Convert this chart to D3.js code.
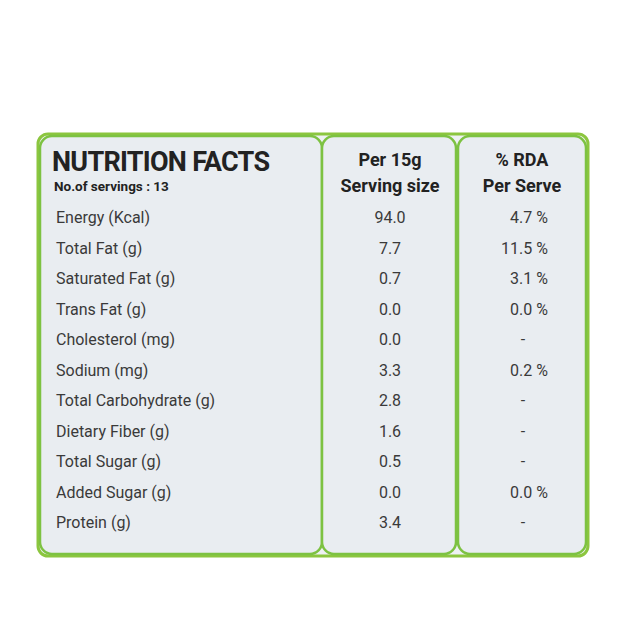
<!DOCTYPE html>
<html><head><meta charset="utf-8">
<script src="https://cdn.jsdelivr.net/npm/d3@7"></script>
<style>body{margin:0;background:#fff}</style></head>
<body><svg id="c" width="640" height="640"></svg>
<script>
const nutrients=["Energy (Kcal)","Total Fat (g)","Saturated Fat (g)","Trans Fat (g)","Cholesterol (mg)","Sodium (mg)","Total Carbohydrate (g)","Dietary Fiber (g)","Total Sugar (g)","Added Sugar (g)","Protein (g)"];
const perServing=["94.0","7.7","0.7","0.0","0.0","3.3","2.8","1.6","0.5","0.0","3.4"];
const rda=["4.7 %","11.5 %","3.1 %","0.0 %","-","0.2 %","-","-","-","0.0 %","-"];
const svg=d3.select("#c");
const font="Roboto, 'Noto Sans', sans-serif";
// outer frame
svg.append("rect").attr("x",38).attr("y",134).attr("width",550).attr("height",422).attr("rx",10).attr("fill","#eef1f4").attr("stroke","#8cc63f").attr("stroke-width",3);
const panels=[[40,136,282,418],[322,136,134,418],[458,136,128,418]];
svg.selectAll("rect.p").data(panels).join("rect").attr("class","p")
 .attr("x",d=>d[0]).attr("y",d=>d[1]).attr("width",d=>d[2]).attr("height",d=>d[3]).attr("rx",12)
 .attr("fill","#e9edf1").attr("stroke","#7dc242").attr("stroke-width",2.5);
const y=d3.scalePoint().domain(nutrients).range([217,522]);
const g=svg.append("g").attr("font-family",font).attr("fill","#3a3a3a");
g.append("text").attr("x",52).attr("y",171).attr("font-size",27).attr("font-weight","bold").attr("fill","#222").attr("textLength",218).text("NUTRITION FACTS");
g.append("text").attr("x",54).attr("y",191).attr("font-size",13.5).attr("font-weight","bold").attr("fill","#222").text("No.of servings : 13");
[["Per 15g",166],["Serving size",192]].forEach(([t,yy])=>g.append("text").attr("x",390).attr("y",yy).attr("text-anchor","middle").attr("font-size",18).attr("font-weight","bold").attr("fill","#222").text(t));
[["% RDA",166],["Per Serve",192]].forEach(([t,yy])=>g.append("text").attr("x",522).attr("y",yy).attr("text-anchor","middle").attr("font-size",18).attr("font-weight","bold").attr("fill","#222").text(t));
g.selectAll("text.n").data(nutrients).join("text").attr("class","n").attr("x",56).attr("y",d=>y(d)+6).attr("font-size",16).text(d=>d);
g.selectAll("text.v").data(perServing).join("text").attr("class","v").attr("x",390).attr("y",(d,i)=>y(nutrients[i])+6).attr("text-anchor","middle").attr("font-size",16).text(d=>d);
g.selectAll("text.r").data(rda).join("text").attr("class","r").attr("x",(d)=>d==="-"?523:548).attr("y",(d,i)=>y(nutrients[i])+6).attr("text-anchor",d=>d==="-"?"middle":"end").attr("font-size",16).text(d=>d);
</script></body></html>
